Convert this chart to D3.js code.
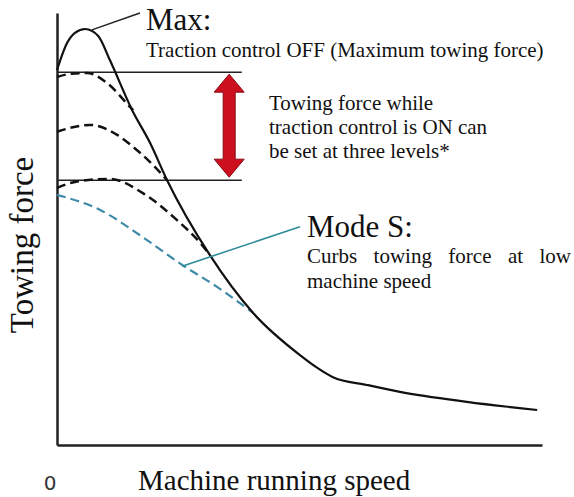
<!DOCTYPE html>
<html>
<head>
<meta charset="utf-8">
<script src="https://cdn.jsdelivr.net/npm/d3@7"></script>
<style>
  body { margin: 0; background: #fff; }
  .curve { fill: none; }
</style>
</head>
<body>
<div id="chart"></div>
<script>
// speed (0-100) vs towing force (0-100)
var maxCurve = [[0, 86.8], [2.1, 93.1], [3.7, 95.4], [5.8, 96.3], [8.5, 94.7], [10.9, 89.1],
  [15.5, 77.5], [19.2, 69.9], [22.7, 61.3], [31.5, 44.0], [40.4, 30.6], [50.1, 20.8],
  [53.6, 17.9], [56.9, 15.7], [63.9, 13.9], [70.7, 12.3], [84.5, 10.0], [99.0, 8.1]];
var level1 = [[0, 85.2], [2.7, 85.9], [6.2, 86.1], [10.3, 83.8], [15.1, 78.2], [15.7, 77.5]];
var level2 = [[0, 72.5], [2.7, 73.4], [6.8, 74.1], [12.4, 71.8], [15.7, 69.0], [19.2, 65.5], [22.7, 61.3]];
var level3 = [[0, 59.5], [3.7, 60.9], [10.9, 61.6], [17.7, 58.3], [24.7, 52.1], [29.5, 46.8], [31.5, 44.0]];
var modeS = [[0, 57.9], [8.9, 54.4], [17.7, 48.1], [25.8, 41.7], [33.0, 36.6], [40.4, 30.6]];

// range of the traction control levels (top / bottom) and the arrow between them
var rangeLevels = [86.3, 61.3];
var rangeEndX = 38.1;
var arrowX = 35.5;

// leader lines [from, to]
var maxLeader = [[7.2, 96.1], [17.1, 100]];
var modeLeader = [[25.8, 41.4], [50.1, 50.5]];

var labelMax = "Max:";
var labelMaxSub = "Traction control OFF (Maximum towing force)";
var labelRange = ["Towing force while", "traction control is ON can", "be set at three levels*"];
var labelMode = "Mode S:";
var labelModeSub = ["Curbs towing force at low", "machine speed"];
var yTitle = "Towing force";
var xTitle = "Machine running speed";
var originLabel = "0";

var fullwidth = 574, fullheight = 497;
var serif = "'Liberation Serif', 'Times New Roman', serif";

var svg = d3.select("#chart").append("svg")
  .attr("width", fullwidth)
  .attr("height", fullheight);

var xScale = d3.scaleLinear().domain([0, 100]).range([57, 542]);
var yScale = d3.scaleLinear().domain([0, 100]).range([445, 13]);

var line = d3.line()
  .x(function(d) { return xScale(d[0]); })
  .y(function(d) { return yScale(d[1]); })
  .curve(d3.curveMonotoneX);

var straight = d3.line()
  .x(function(d) { return xScale(d[0]); })
  .y(function(d) { return yScale(d[1]); });

// axes, no ticks
svg.append("g")
  .attr("transform", "translate(0," + yScale(0) + ")")
  .call(d3.axisBottom(xScale).tickValues([]).tickSizeOuter(0))
  .select(".domain").attr("stroke", "#222").attr("stroke-width", 2.5);

svg.append("g")
  .attr("transform", "translate(" + xScale(0) + ",0)")
  .call(d3.axisLeft(yScale).tickValues([]).tickSizeOuter(0))
  .select(".domain").attr("stroke", "#222").attr("stroke-width", 2.5);

// range lines
svg.selectAll("line.range")
  .data(rangeLevels)
  .enter().append("line")
  .attr("class", "range")
  .attr("x1", xScale(0)).attr("x2", xScale(rangeEndX))
  .attr("y1", function(d) { return yScale(d); })
  .attr("y2", function(d) { return yScale(d); })
  .attr("stroke", "#222").attr("stroke-width", 1.5);

// dashed levels
svg.selectAll("path.level")
  .data([level1, level2, level3])
  .enter().append("path")
  .attr("class", "curve level")
  .attr("d", line)
  .attr("stroke", "#111")
  .attr("stroke-width", 2.5)
  .attr("stroke-dasharray", "9,5");

svg.append("path")
  .attr("class", "curve")
  .attr("d", line(modeS))
  .attr("stroke", "#3d8aa8")
  .attr("stroke-width", 2.2)
  .attr("stroke-dasharray", "9,5");

svg.append("path")
  .attr("class", "curve")
  .attr("d", line(maxCurve))
  .attr("stroke", "#111")
  .attr("stroke-width", 2.2);

// leaders
svg.append("path").attr("d", straight(maxLeader))
  .attr("stroke", "#222").attr("stroke-width", 1.5).attr("fill", "none");
svg.append("path").attr("d", straight(modeLeader))
  .attr("stroke", "#2f8a9c").attr("stroke-width", 1.6).attr("fill", "none");

// double arrow
var ax = xScale(arrowX),
    ayTop = yScale(rangeLevels[0]) + 2,
    ayBot = yScale(rangeLevels[1]) - 3;
var headL = 18, headW = 15, shaftW = 6;
var arrowPts = [
  [ax, ayTop], [ax + headW, ayTop + headL], [ax + shaftW, ayTop + headL],
  [ax + shaftW, ayBot - headL], [ax + headW, ayBot - headL], [ax, ayBot],
  [ax - headW, ayBot - headL], [ax - shaftW, ayBot - headL], [ax - shaftW, ayTop + headL],
  [ax - headW, ayTop + headL]
];
svg.append("polygon")
  .attr("points", arrowPts.map(function(p) { return p.join(","); }).join(" "))
  .attr("fill", "#cc1020")
  .attr("stroke", "#8a0a12")
  .attr("stroke-width", 1);

// texts
function addText(x, y, size, txt) {
  return svg.append("text")
    .attr("x", x).attr("y", y)
    .style("font-family", serif)
    .style("font-size", size + "px")
    .style("fill", "#111")
    .text(txt);
}

addText(146, 30, 31, labelMax);
addText(146, 57, 21, labelMaxSub);

labelRange.forEach(function(d, i) {
  addText(269, 110 + i * 24, 21, d);
});

addText(307, 237, 31, labelMode);

var modeSubs = labelModeSub.map(function(d, i) {
  return addText(307, 263 + i * 25, 21, d);
});

// justify the first line like the original
var w = modeSubs[0].node().getComputedTextLength();
var gaps = labelModeSub[0].split(" ").length - 1;
modeSubs[0].style("word-spacing", ((571 - 307 - w) / gaps) + "px");

addText(0, 0, 33, yTitle)
  .attr("transform", "translate(33,245) rotate(-90)")
  .attr("text-anchor", "middle");

addText(138, 490, 29, xTitle);

svg.append("text")
  .attr("x", xScale(0) - 7).attr("y", 490)
  .attr("text-anchor", "middle")
  .style("font-family", "'DejaVu Sans', sans-serif")
  .style("font-size", "20px")
  .style("fill", "#333")
  .text(originLabel);
</script>
</body>
</html>
